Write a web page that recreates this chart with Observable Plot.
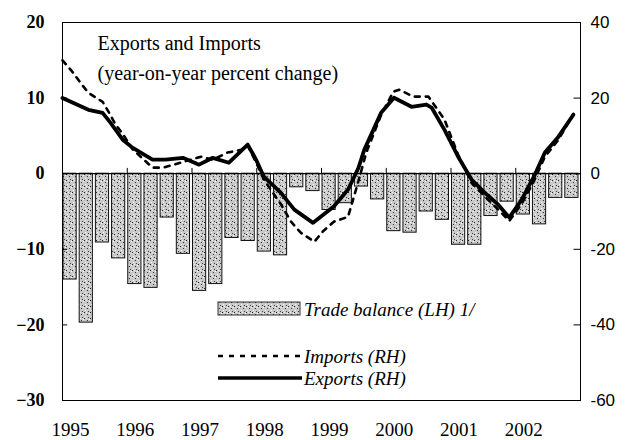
<!DOCTYPE html>
<html>
<head>
<meta charset="utf-8">
<script src="https://cdn.jsdelivr.net/npm/d3@7"></script>
<script src="https://cdn.jsdelivr.net/npm/@observablehq/plot@0.6"></script>
<style>
  html, body { margin: 0; padding: 0; background: #fff; }
</style>
</head>
<body>
<div id="chart"></div>
<script>
// ---- data ----
const years = [1995, 1996, 1997, 1998, 1999, 2000, 2001, 2002];
const leftTicks = [-30, -20, -10, 0, 10, 20];

// quarterly trade balance (LH), 1995Q1 .. 2002Q4
const tradeBalance = [
  -14.0, -19.7, -9.1, -11.2,
  -14.6, -15.1, -5.8, -10.6,
  -15.5, -14.6, -8.5, -8.9,
  -10.3, -10.8, -1.8, -2.3,
  -4.8, -3.9, -1.7, -3.4,
  -7.6, -7.8, -5.0, -6.1,
  -9.4, -9.4, -5.6, -3.7,
  -5.4, -6.7, -3.2, -3.2
];

// exports, year-on-year % change (RH)
const exportsT = [1995.00, 1995.40, 1995.62, 1995.74, 1995.93, 1996.08, 1996.39, 1996.59, 1996.86,
  1997.11, 1997.32, 1997.57, 1997.86, 1997.99, 1998.11, 1998.37, 1998.58, 1998.87, 1999.19,
  1999.41, 1999.57, 1999.66, 1999.92, 2000.12, 2000.39, 2000.62, 2000.70, 2000.90, 2001.11,
  2001.32, 2001.52, 2001.73, 2001.90, 2002.09, 2002.28, 2002.45, 2002.66, 2002.89];
const exportsV = [20.0, 16.9, 16.1, 13.5, 9.0, 6.9, 3.7, 3.7, 4.2,
  2.4, 4.2, 2.9, 7.7, 3.7, -0.8, -5.0, -9.5, -13.0, -8.7,
  -4.2, 1.5, 6.3, 16.1, 20.1, 17.7, 18.3, 17.5, 11.6, 4.5,
  -1.6, -5.0, -8.2, -11.6, -6.9, -0.8, 5.6, 9.8, 15.6];

// imports, year-on-year % change (RH)
const importsT = [1995.00, 1995.15, 1995.28, 1995.40, 1995.62, 1995.71, 1995.82, 1995.94, 1996.08,
  1996.39, 1996.55, 1996.72, 1997.14, 1997.32, 1997.55, 1997.76, 1997.86, 1997.99, 1998.11,
  1998.37, 1998.53, 1998.68, 1998.89, 1999.02, 1999.19, 1999.41, 1999.57, 1999.69, 1999.92,
  2000.11, 2000.20, 2000.42, 2000.65, 2000.77, 2000.90, 2001.11, 2001.32, 2001.52, 2001.73,
  2001.90, 2002.09, 2002.28, 2002.45, 2002.66, 2002.89];
const importsV = [30.0, 27.0, 24.0, 21.4, 19.0, 16.4, 13.0, 10.3, 6.5,
  1.6, 1.6, 2.4, 4.5, 3.7, 5.6, 6.3, 7.5, 3.0, -1.6,
  -8.0, -12.7, -15.6, -18.0, -15.3, -12.7, -11.4, -2.0, 5.5, 15.5,
  21.7, 22.2, 20.4, 20.4, 17.5, 14.3, 5.0, -2.5, -6.0, -9.5,
  -12.5, -8.0, -2.0, 4.5, 9.0, 15.8];

// ---- build tables ----
const bars = tradeBalance.map((v, i) => ({ x1: years[0] + i / 4, x2: years[0] + (i + 1) / 4, v }));
const exportsData = exportsT.map((t, i) => ({ t, v: exportsV[i] }));
const importsData = importsT.map((t, i) => ({ t, v: importsV[i] }));

const serif = "'Liberation Serif', 'Times New Roman', serif";
const sans = "'Liberation Sans', Arial, sans-serif";

const chart = Plot.plot({
  width: 625,
  height: 440,
  marginLeft: 62,
  marginRight: 45,
  marginTop: 22,
  marginBottom: 40,
  style: { fontFamily: serif, background: "#fff", color: "#000" },
  x: { domain: [1995, 2003] },
  y: { domain: [-30, 20] },
  marks: [
    Plot.rectY(bars, { x1: "x1", x2: "x2", y: "v", fill: "url(#stipple)", stroke: "#111", strokeWidth: 1, insetLeft: 1, insetRight: 2 }),
    Plot.ruleY([0], { stroke: "#000", strokeWidth: 1.2 }),
    Plot.ruleX(years.slice(1), { y1: 0, y2: 0.7, stroke: "#000", strokeWidth: 1 }),
    Plot.line(importsData, { x: "t", y: d => d.v / 2, stroke: "#000", strokeWidth: 2.6, strokeDasharray: "5,6" }),
    Plot.line(exportsData, { x: "t", y: d => d.v / 2, stroke: "#000", strokeWidth: 3.8, strokeLinejoin: "round" }),
    Plot.frame({ stroke: "#000", strokeWidth: 1 }),
    Plot.axisY({ anchor: "left", ticks: leftTicks, tickSize: 0, tickPadding: 18, fontSize: 18, fontWeight: "bold", fontFamily: serif, label: null }),
    Plot.ruleY(leftTicks, { y: d => d, x1: 1995, x2: 1995.08, stroke: "#000" }),
    Plot.ruleY(leftTicks, { y: d => d, x1: 2002.9, x2: 2003, stroke: "#000" }),
    Plot.axisY({ anchor: "right", ticks: leftTicks, tickSize: 0, tickPadding: 10, tickFormat: d => d * 2, fontSize: 17, fontFamily: sans, label: null }),
    Plot.axisX({ anchor: "bottom", ticks: years, tickSize: 0, tickPadding: 22, tickFormat: d => String(d), fontSize: 19, fontFamily: serif, dx: 8, label: null }),
    Plot.text(["Exports and Imports"], { frameAnchor: "top-left", dx: 35, dy: 13, fontSize: 20, fontFamily: serif, textAnchor: "start", lineAnchor: "top" }),
    Plot.text(["(year-on-year percent change)"], { frameAnchor: "top-left", dx: 35, dy: 43, fontSize: 20, fontFamily: serif, textAnchor: "start", lineAnchor: "top" })
  ]
});

// stipple pattern
d3.select(chart).insert("defs", ":first-child").html(`
  <pattern id="stipple" patternUnits="userSpaceOnUse" width="6" height="6">
    <rect width="6" height="6" fill="#c9c9c9"/>
    <rect x="0" y="0" width="1" height="1" fill="#222"/>
    <rect x="3" y="2" width="1" height="1" fill="#333"/>
    <rect x="1" y="4" width="1" height="1" fill="#fff"/>
    <rect x="4" y="5" width="1" height="1" fill="#444"/>
    <rect x="5" y="1" width="1" height="1" fill="#fff"/>
    <rect x="2" y="0" width="1" height="1" fill="#eee"/>
  </pattern>`);

// legend
const lg = d3.select(chart).append("g").attr("font-family", serif).attr("font-style", "italic")
  .attr("font-size", 19).attr("text-anchor", "start");
lg.append("rect").attr("x", 218).attr("y", 302).attr("width", 82).attr("height", 13)
  .attr("fill", "url(#stipple)").attr("stroke", "#333").attr("stroke-width", 1);
lg.append("text").attr("x", 304).attr("y", 316).text("Trade balance (LH) 1/");
lg.append("line").attr("x1", 218).attr("x2", 302).attr("y1", 356).attr("y2", 356)
  .attr("stroke", "#000").attr("stroke-width", 2.4).attr("stroke-dasharray", "5,6");
lg.append("text").attr("x", 304).attr("y", 363).text("Imports (RH)");
lg.append("line").attr("x1", 218).attr("x2", 302).attr("y1", 378).attr("y2", 378)
  .attr("stroke", "#000").attr("stroke-width", 3.6);
lg.append("text").attr("x", 304).attr("y", 385).text("Exports (RH)");

document.getElementById("chart").appendChild(chart);
</script>
</body>
</html>
